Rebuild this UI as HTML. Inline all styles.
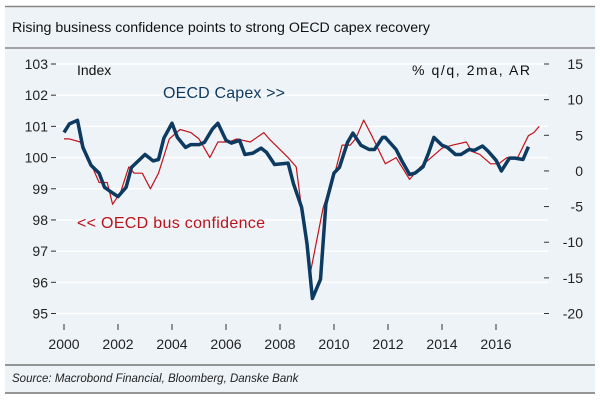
<!DOCTYPE html>
<html><head><meta charset="utf-8"><style>
body{margin:0;background:#fff;}
svg{display:block;font-family:"Liberation Sans",sans-serif;}
</style></head><body>
<svg id="chart" width="600" height="400">
<rect x="5" y="6" width="590" height="388" fill="#eef3f7"/>
<g id="grid"></g>
<line x1="5" y1="6.5" x2="595" y2="6.5" stroke="#888" stroke-width="1.5"/>
<line x1="5" y1="48" x2="595" y2="48" stroke="#888" stroke-width="1.5"/>
<line x1="5" y1="365" x2="595" y2="365" stroke="#777" stroke-width="1.5"/>
<line x1="5" y1="393" x2="595" y2="393" stroke="#777" stroke-width="1.5"/>
<text x="12" y="32" font-size="14.2" fill="#111">Rising business confidence points to strong OECD capex recovery</text>
<text x="12" y="382" font-size="11.5" font-style="italic" fill="#222">Source: Macrobond Financial, Bloomberg, Danske Bank</text>
<text x="77" y="75" font-size="14" fill="#111">Index</text>
<text x="530" y="75" font-size="14" fill="#111" text-anchor="end" textLength="118">% q/q, 2ma, AR</text>
<text x="163" y="98" font-size="16" fill="#0e3a5f" textLength="122">OECD Capex &gt;&gt;</text>
<text x="77" y="228" font-size="16" fill="#b8141b" textLength="188">&lt;&lt; OECD bus confidence</text>
<g id="axes"></g><g id="series"></g>
</svg>
<script>
const leftTicks=[95,96,97,98,99,100,101,102,103];
const rightTicks=[-20,-15,-10,-5,0,5,10,15];
const yearTicks=[2000,2002,2004,2006,2008,2010,2012,2014,2016];
const capexYears=[2000.0,2000.2,2000.5,2000.7,2001.0,2001.3,2001.5,2001.8,2002.0,2002.3,2002.5,2003.0,2003.3,2003.5,2003.7,2004.0,2004.2,2004.5,2004.7,2005.0,2005.2,2005.5,2005.7,2006.0,2006.2,2006.5,2006.7,2007.0,2007.3,2007.5,2007.8,2008.3,2008.5,2008.8,2009.0,2009.2,2009.5,2009.7,2010.0,2010.2,2010.5,2010.7,2011.0,2011.3,2011.5,2011.8,2011.9,2012.3,2012.5,2012.8,2013.0,2013.3,2013.5,2013.7,2014.0,2014.2,2014.5,2014.7,2015.0,2015.2,2015.5,2015.7,2016.0,2016.2,2016.5,2016.7,2017.0,2017.2];
const capexValues=[5.4,6.6,7.1,3.3,0.8,-0.3,-2.3,-3.1,-3.6,-2.3,0.5,2.3,1.4,1.6,4.6,6.7,4.7,3.3,3.7,3.7,4.0,5.9,6.7,4.3,3.9,4.3,2.3,2.5,3.2,2.6,0.9,1.1,-1.8,-5.1,-10.2,-17.9,-15.2,-4.6,-0.3,0.5,4.0,5.3,3.6,3.0,3.0,4.7,4.7,3.0,1.5,-0.5,-0.3,0.6,2.5,4.7,3.6,3.3,2.3,2.3,3.0,2.9,3.5,2.8,1.5,0.0,1.8,1.8,1.6,3.4];
const confYears=[2000.0,2000.2,2000.6,2000.8,2001.1,2001.3,2001.6,2001.8,2002.1,2002.4,2002.6,2002.9,2003.2,2003.5,2003.9,2004.3,2004.7,2005.0,2005.4,2005.7,2006.1,2006.4,2006.9,2007.4,2007.6,2008.3,2008.6,2008.9,2009.1,2009.6,2010.0,2010.3,2010.6,2010.8,2011.1,2011.4,2011.9,2012.3,2012.8,2013.2,2013.6,2014.0,2014.4,2014.9,2015.1,2015.4,2015.8,2016.1,2016.4,2016.8,2017.2,2017.4,2017.6];
const confValues=[100.6,100.6,100.5,100.1,99.6,99.2,99.2,98.5,98.9,99.7,99.5,99.5,99.0,99.5,100.6,100.9,100.8,100.6,100.0,100.5,100.5,100.6,100.5,100.8,100.6,100.0,99.7,97.7,96.2,98.4,99.4,100.4,100.4,100.6,101.2,100.7,99.8,100.0,99.3,99.7,100.0,100.3,100.4,100.5,100.2,100.1,99.8,99.8,100.0,100.0,100.7,100.8,101.0];
const NS="http://www.w3.org/2000/svg";
const yTop=64,yBot=313.5;
function xS(y){return 64+(y-2000)*27;}
function yL(v){return yBot-(v-95)/(103-95)*(yBot-yTop);}
function yR(v){return yBot-(v+20)/35*(yBot-yTop);}
function mk(tag,attrs,parent){const e=document.createElementNS(NS,tag);for(const k in attrs)e.setAttribute(k,attrs[k]);parent.appendChild(e);return e;}
const grid=document.getElementById('grid'),axes=document.getElementById('axes'),series=document.getElementById('series');
leftTicks.forEach(v=>{
 const y=yL(v);
 const g=mk('line',{x1:56,x2:548,y1:y,y2:y,stroke:'#fff','stroke-width':1.5},grid);
 
 
 const t=mk('line',{x1:51,x2:56,y1:y,y2:y,stroke:'#333'},axes);
 
 
 const l=mk('text',{x:48,y:y+5,'font-size':14,'text-anchor':'end',fill:'#222'},axes);
 l.textContent=v;
 
 
});
rightTicks.forEach(v=>{
 const y=yR(v);
 const t=mk('line',{x1:544,x2:549,y1:y,y2:y,stroke:'#333'},axes);
 
 
 const l=mk('text',{x:583,y:y+5,'font-size':14,'text-anchor':'end',fill:'#222'},axes);
 l.textContent=v;
 
 
});
yearTicks.forEach(v=>{
 const x=xS(v);
 const t=mk('line',{x1:x,x2:x,y1:324,y2:330,stroke:'#333'},axes);
 
 
 const l=mk('text',{x:x,y:349,'font-size':14,'text-anchor':'middle',fill:'#222'},axes);
 l.textContent=v;
 
 
});
const cPts=capexYears.map((y,i)=>xS(y).toFixed(1)+','+yR(capexValues[i]).toFixed(1)).join(' ');
const bPts=confYears.map((y,i)=>xS(y).toFixed(1)+','+yL(confValues[i]).toFixed(1)).join(' ');
const conf=mk('polyline',{points:bPts,fill:'none',stroke:'#c0141c','stroke-width':1.2,'stroke-linejoin':'round'},series);


const cap=mk('polyline',{points:cPts,fill:'none',stroke:'#0c3a60','stroke-width':3.5,'stroke-linejoin':'round'},series);


</script>
</body></html>
